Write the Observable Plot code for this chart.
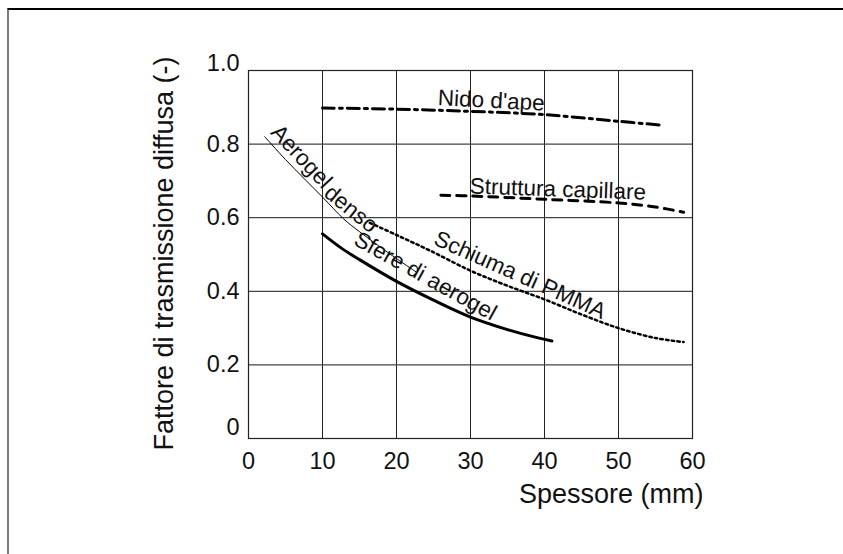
<!DOCTYPE html>
<html><head><meta charset="utf-8">
<script src="https://cdn.jsdelivr.net/npm/d3@7"></script>
<script src="https://cdn.jsdelivr.net/npm/@observablehq/plot@0.6"></script>
<style>
body{margin:0;background:#fff;}
#wrap{position:relative;width:843px;height:554px;overflow:hidden;background:#fff;}
#chart{position:absolute;left:0;top:0;}
#frame{position:absolute;left:7px;top:8px;width:900px;height:700px;border-top:2px solid #000;border-left:2px solid #7a7a7a;}
</style></head><body>
<div id="wrap"><div id="chart"></div><div id="frame"></div></div>
<script>
// Tick values
const xTicks = [0, 10, 20, 30, 40, 50, 60];
const yTicks = [0, 0.2, 0.4, 0.6, 0.8, 1.0];

// Series: Nido d'ape (dash-dot)
const nidoX = [10, 20, 30, 40, 50, 55.5];
const nidoY = [0.898, 0.895, 0.889, 0.880, 0.862, 0.852];
// Struttura capillare (dashed)
const strutturaX = [26, 30, 40, 50, 55, 58.8];
const strutturaY = [0.661, 0.659, 0.650, 0.640, 0.629, 0.615];
// Aerogel denso (thin solid)
const densoX = [2.2, 5, 10, 12.85, 15, 20, 22.7];
const densoY = [0.82, 0.758, 0.656, 0.597, 0.562, 0.489, 0.452];
// Schiuma di PMMA (dotted)
const schiumaX = [16.4, 20, 24.5, 30, 35, 40, 45, 50, 55, 58.8];
const schiumaY = [0.586, 0.553, 0.511, 0.456, 0.415, 0.378, 0.337, 0.300, 0.273, 0.262];
// Sfere di aerogel (thick solid)
const sfereX = [10, 12.5, 15, 20, 25, 30, 35, 39, 41];
const sfereY = [0.556, 0.518, 0.486, 0.427, 0.376, 0.330, 0.296, 0.274, 0.265];

// Curve labels ("Aerogel denso" split in two words to follow the bend)
const labelText = ["Nido d'ape", "Struttura capillare", "Aerogel", "denso", "Sfere di aerogel", "Schiuma di PMMA"];
const labelX = [32.8, 41.8, 7.15, 13.85, 23.9, 36.7];
const labelY = [0.918, 0.677, 0.766, 0.624, 0.441, 0.444];
const labelAngle = [3, 2, 47, 39, 29, 24];

const toPts = (xs, ys) => xs.map((x, i) => ({x, y: ys[i]}));
const labels = labelText.map((t, i) => ({t, x: labelX[i], y: labelY[i], r: labelAngle[i]}));

const font = "'Liberation Sans', Arial, Helvetica, sans-serif";

const chart = Plot.plot({
  width: 843, height: 554,
  marginLeft: 248, marginRight: 151, marginTop: 70, marginBottom: 116,
  style: {fontFamily: font, background: "transparent", color: "#111"},
  x: {domain: [0, 60]},
  y: {domain: [0, 1]},
  marks: [
    Plot.gridX(xTicks.slice(1, -1), {stroke: "#222", strokeOpacity: 1, strokeWidth: 1}),
    Plot.gridY(yTicks.slice(1, -1), {stroke: "#444", strokeOpacity: 1, strokeWidth: 1.2}),
    Plot.frame({stroke: "#222", strokeWidth: 1.2}),
    Plot.line(toPts(nidoX, nidoY), {x: "x", y: "y", curve: "catmull-rom", stroke: "#000", strokeWidth: 3, strokeDasharray: "12,5,3,5"}),
    Plot.line(toPts(strutturaX, strutturaY), {x: "x", y: "y", curve: "catmull-rom", stroke: "#000", strokeWidth: 3, strokeDasharray: "9,7"}),
    Plot.line(toPts(densoX, densoY), {x: "x", y: "y", curve: "catmull-rom", stroke: "#000", strokeWidth: 1}),
    Plot.line(toPts(schiumaX, schiumaY), {x: "x", y: "y", curve: "catmull-rom", stroke: "#000", strokeWidth: 2.5, strokeDasharray: "2.5,3.2"}),
    Plot.line(toPts(sfereX, sfereY), {x: "x", y: "y", curve: "catmull-rom", stroke: "#000", strokeWidth: 3}),
    Plot.text(labels, {x: "x", y: "y", text: "t", rotate: "r", fontSize: 22.5, fill: "#111", textAnchor: "middle", lineAnchor: "middle"}),
    Plot.axisX(xTicks, {tickSize: 0, tickPadding: 14, fontSize: 23.5, tickFormat: d => String(d), label: null, fill: "#111"}),
    Plot.axisY(yTicks.slice(1, -1), {tickSize: 0, tickPadding: 9, fontSize: 23.5, tickFormat: d => d.toFixed(1), label: null, fill: "#111"}),
    Plot.axisY([yTicks[yTicks.length - 1]], {tickSize: 0, tickPadding: 9, fontSize: 23.5, tickFormat: d => d.toFixed(1), label: null, dy: -7, fill: "#111"}),
    Plot.axisY([yTicks[0]], {tickSize: 0, tickPadding: 9, fontSize: 23.5, tickFormat: d => String(d), label: null, dy: -11, fill: "#111"}),
    Plot.text(["Spessore (mm)"], {frameAnchor: "bottom-right", dx: 11, dy: 56, textAnchor: "end", lineAnchor: "middle", fontSize: 27, fill: "#111"}),
    Plot.text(["Fattore di trasmissione diffusa (-)"], {frameAnchor: "left", rotate: -90, dx: -84, dy: -1, textAnchor: "middle", lineAnchor: "middle", fontSize: 27, fill: "#111"})
  ]
});
document.getElementById("chart").appendChild(chart);
</script>
</body></html>
